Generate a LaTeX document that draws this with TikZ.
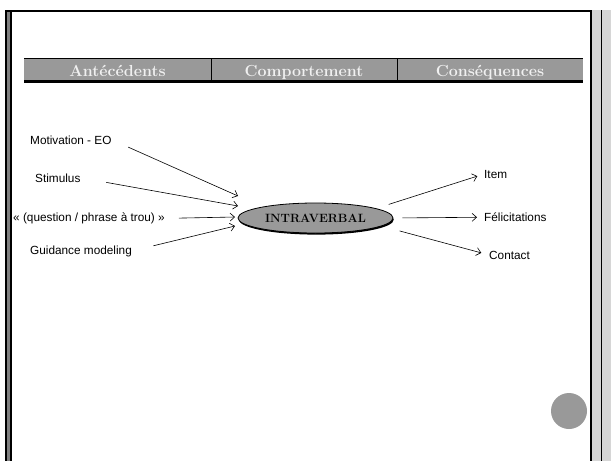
\documentclass[tikz,border=0pt]{standalone}
\usepackage{fontspec}
\usepackage{tikz}
\usetikzlibrary{arrows.meta}
\usetikzlibrary{shapes.geometric}
\usetikzlibrary{shadows}
\newfontfamily\arialfont{Liberation Sans}
\definecolor{bandgray}{gray}{0.6}
\definecolor{stripgray}{gray}{0.84}
\tikzset{conn/.style = {-{Straight Barb[length=4.5pt, width=8pt]}, line width = 0.6pt}}
\tikzset{lbl/.style = {inner sep = 0, font = \arialfont\fontsize{11.8}{14}\selectfont}}
\tikzset{hdr/.style = {inner sep = 0, anchor = base, text = white!94!black,
                       font = \fontsize{16}{19}\selectfont\bfseries}}

\begin{document}
\begin{tikzpicture}[x=1pt, y=-1pt]
    \useasboundingbox (0, 0) rectangle (611, 461);
    \path [fill=white] (0, 0) rectangle (611, 461);

    % frame
    \path [fill=stripgray] (592, 10) rectangle (611, 461);
    \draw [line width=1pt] (601, 10) -- (601, 461);
    \draw [line width=2pt] (591, 10) -- (591, 461);
    \path [fill=gray] (5, 10) rectangle (12, 461);
    \draw [line width=1.5pt] (5.75, 10) -- (5.75, 461);
    \draw [line width=2pt] (11, 10) -- (11, 461);
    \draw [line width=2pt] (5, 11) -- (592, 11);

    % header
    \path [fill=bandgray] (24, 58) rectangle (583, 82);
    \draw [line width=0.8pt] (24, 58) -- (583, 58);
    \draw [line width=2.5pt] (24, 81.5) -- (583, 81.5);
    \draw [line width=0.8pt] (211, 58) -- (211, 81) (397, 58) -- (397, 81);
    \node [hdr] (ante) at (117.5, 76) {Antécédents};
    \node [hdr] (comp) at (304, 76) {Comportement};
    \node [hdr] (cons) at (490, 76) {Conséquences};

    \node [ellipse, draw, line width=0.8pt, fill=bandgray, minimum width=155, minimum height=30,
           inner sep=0, font=\fontsize{12}{14}\selectfont\bfseries,
           drop shadow={shadow xshift=0.8pt, shadow yshift=-1.6pt, fill=black, opacity=1}]
           (iv) at (315.5, 218) {INTRAVERBAL};

    \node [lbl, anchor=base west] (mot) at (30, 144) {Motivation - EO};
    \node [lbl, anchor=base west] (stim) at (35, 182) {Stimulus};
    \node [lbl, anchor=base west] (ques) at (13, 221.5) {« (question / phrase à trou) »};
    \node [lbl, anchor=base west] (guid) at (30, 254) {Guidance modeling};
    \coordinate (in1) at (238, 196);
    \coordinate (in2) at (238, 206);
    \coordinate (in3) at (235, 217);
    \coordinate (in4) at (235, 226);
    \draw [conn, shorten <=18pt] (mot.east) -- (in1);
    \draw [conn, shorten <=26pt] (stim.east) -- (in2);
    \draw [conn, shorten <=14pt] (ques.east) -- (in3);
    \draw [conn, shorten <=22pt] (guid.east) -- (in4);

    \node [lbl, anchor=base west] (item) at (484, 178) {Item};
    \node [lbl, anchor=base west] (feli) at (484, 221.5) {Félicitations};
    \node [lbl, anchor=base west] (cont) at (489, 259) {Contact};
    \draw [conn, shorten <=13pt, shorten >=7pt] (iv.9.5) -- (item.west);
    \draw [conn, shorten <=9pt, shorten >=7pt] (iv.east) -- (feli.west);
    \draw [conn, shorten <=18.6pt, shorten >=8pt] (iv.-7.7) -- (cont.west);

    \node [circle, fill=bandgray, minimum size=36, inner sep=0] (dot) at (569, 411) {};
\end{tikzpicture}
\end{document}
